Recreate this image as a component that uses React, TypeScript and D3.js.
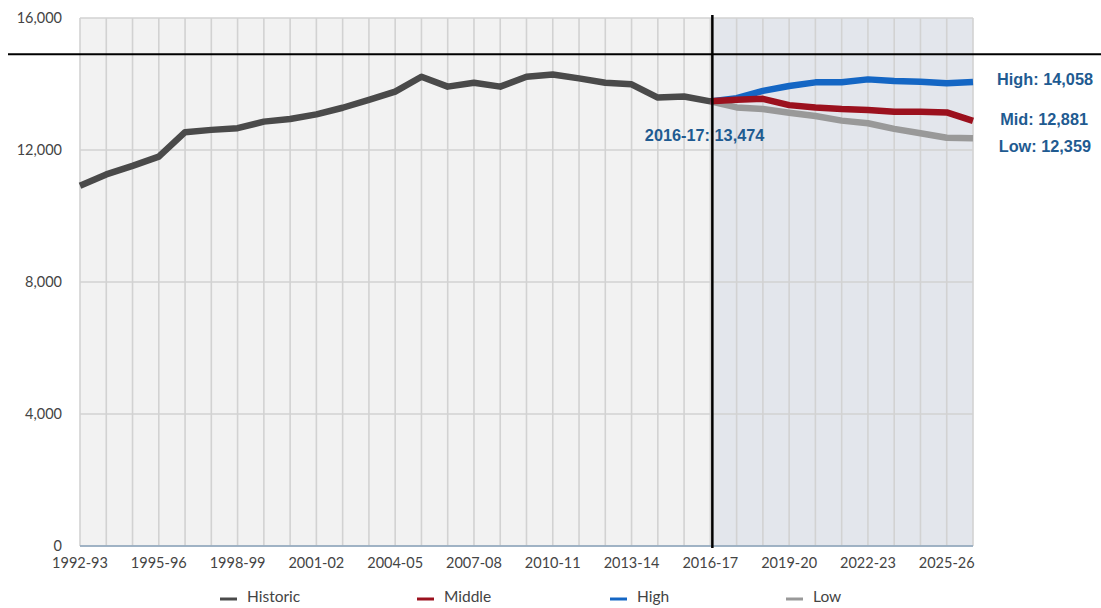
import React from "react";
import * as d3 from "d3";

const years: string[] = [
  "1992-93","1993-94","1994-95","1995-96","1996-97","1997-98","1998-99","1999-00",
  "2000-01","2001-02","2002-03","2003-04","2004-05","2005-06","2006-07","2007-08",
  "2008-09","2009-10","2010-11","2011-12","2012-13","2013-14","2014-15","2015-16",
  "2016-17","2017-18","2018-19","2019-20","2020-21","2021-22","2022-23","2023-24",
  "2024-25","2025-26","2026-27",
];

const historic: number[] = [
  10920, 11260, 11520, 11800, 12540, 12610, 12660, 12860, 12940, 13080, 13280, 13520,
  13770, 14220, 13920, 14040, 13920, 14220, 14290, 14170, 14040, 13990, 13590, 13620, 13474,
];
const projYears: string[] = years.slice(24);
const middle: number[] = [13474, 13520, 13550, 13360, 13290, 13240, 13210, 13160, 13160, 13140, 12881];
const high: number[] = [13474, 13570, 13790, 13940, 14050, 14050, 14140, 14090, 14070, 14020, 14058];
const low: number[] = [13474, 13290, 13240, 13130, 13030, 12890, 12810, 12640, 12510, 12370, 12359];

const yTicks: number[] = [0, 4000, 8000, 12000, 16000];
const capacity = 14900;

const legendItems = [
  { name: "Historic", color: "#4a4a4a" },
  { name: "Middle", color: "#9b111e" },
  { name: "High", color: "#1466c4" },
  { name: "Low", color: "#999999" },
];

export default function App() {
  const W = 1101, H = 608;
  const left = 80, right = 973, top = 18, bottom = 546;
  const x = d3.scalePoint<string>().domain(years).range([left, right]);
  const y = d3.scaleLinear().domain([0, 16000]).range([bottom, top]);
  const line = d3.line<[string, number]>().x(d => x(d[0])!).y(d => y(d[1]));
  const pairs = (ys: string[], vs: number[]) => ys.map((k, i) => [k, vs[i]] as [string, number]);
  const splitX = x("2016-17")! + 2;
  const axisFont = "Lato, 'Open Sans', sans-serif";
  const labFont = "'Liberation Sans', Arial, sans-serif";
  const labColor = "#1f5b91";

  return (
    <svg width={W} height={H} style={{ position: "absolute", left: 0, top: 0, display: "block" }}>
      <rect x={left} y={top} width={splitX - left} height={bottom - top} fill="#f2f2f2" />
      <rect x={splitX} y={top} width={right - splitX} height={bottom - top} fill="#e3e6ec" />
      {years.map(k => (
        <line key={k} x1={x(k)} x2={x(k)} y1={top} y2={bottom} stroke="#d2d2d2" strokeWidth={1.6} />
      ))}
      {yTicks.map(t => (
        <line key={t} x1={left} x2={right} y1={y(t)} y2={y(t)} stroke="#d2d2d2" strokeWidth={1.6} />
      ))}
      <line x1={left} x2={right} y1={bottom} y2={bottom} stroke="#8ba4bd" strokeWidth={1.5} />
      {yTicks.map(t => (
        <text key={t} x={62} y={y(t)} dy="0.35em" textAnchor="end" fontFamily={axisFont} fontSize={14.5} fill="#444">
          {d3.format(",")(t)}
        </text>
      ))}
      {years.filter((_, i) => i % 3 === 0).map(k => (
        <text key={k} x={x(k)} y={568} textAnchor="middle" fontFamily={axisFont} fontSize={14.5} fill="#444">
          {k}
        </text>
      ))}
      <path d={line(pairs(projYears, low))!} fill="none" stroke="#999999" strokeWidth={6.5} strokeLinejoin="round" />
      <path d={line(pairs(projYears, high))!} fill="none" stroke="#1466c4" strokeWidth={6.5} strokeLinejoin="round" />
      <path d={line(pairs(projYears, middle))!} fill="none" stroke="#9b111e" strokeWidth={6.5} strokeLinejoin="round" />
      <path d={line(pairs(years.slice(0, 25), historic))!} fill="none" stroke="#4a4a4a" strokeWidth={6.5} strokeLinejoin="round" />
      <line x1={8} x2={W} y1={y(capacity)} y2={y(capacity)} stroke="#000" strokeWidth={2} />
      <line x1={splitX} x2={splitX} y1={15} y2={548} stroke="#000" strokeWidth={2.5} />
      <text x={splitX + 52} y={135} dy="0.35em" textAnchor="end" fontFamily={labFont} fontWeight="bold" fontSize={16.3} fill={labColor}>
        {"2016-17: " + d3.format(",")(historic[historic.length - 1])}
      </text>
      <text x={1093} y={79} dy="0.35em" textAnchor="end" fontFamily={labFont} fontWeight="bold" fontSize={16.3} fill={labColor}>
        {"High: " + d3.format(",")(high[high.length - 1])}
      </text>
      <text x={1088} y={119} dy="0.35em" textAnchor="end" fontFamily={labFont} fontWeight="bold" fontSize={16.3} fill={labColor}>
        {"Mid: " + d3.format(",")(middle[middle.length - 1])}
      </text>
      <text x={1091} y={146} dy="0.35em" textAnchor="end" fontFamily={labFont} fontWeight="bold" fontSize={16.3} fill={labColor}>
        {"Low: " + d3.format(",")(low[low.length - 1])}
      </text>
      {legendItems.map((it, i) => {
        const lx = [220, 417, 610, 786][i];
        return (
          <g key={it.name}>
            <line x1={lx} x2={lx + 17} y1={599} y2={599} stroke={it.color} strokeWidth={3} />
            <text x={lx + 27} y={597} dy="0.35em" fontFamily={axisFont} fontSize={15.5} fill="#444">{it.name}</text>
          </g>
        );
      })}
    </svg>
  );
}
